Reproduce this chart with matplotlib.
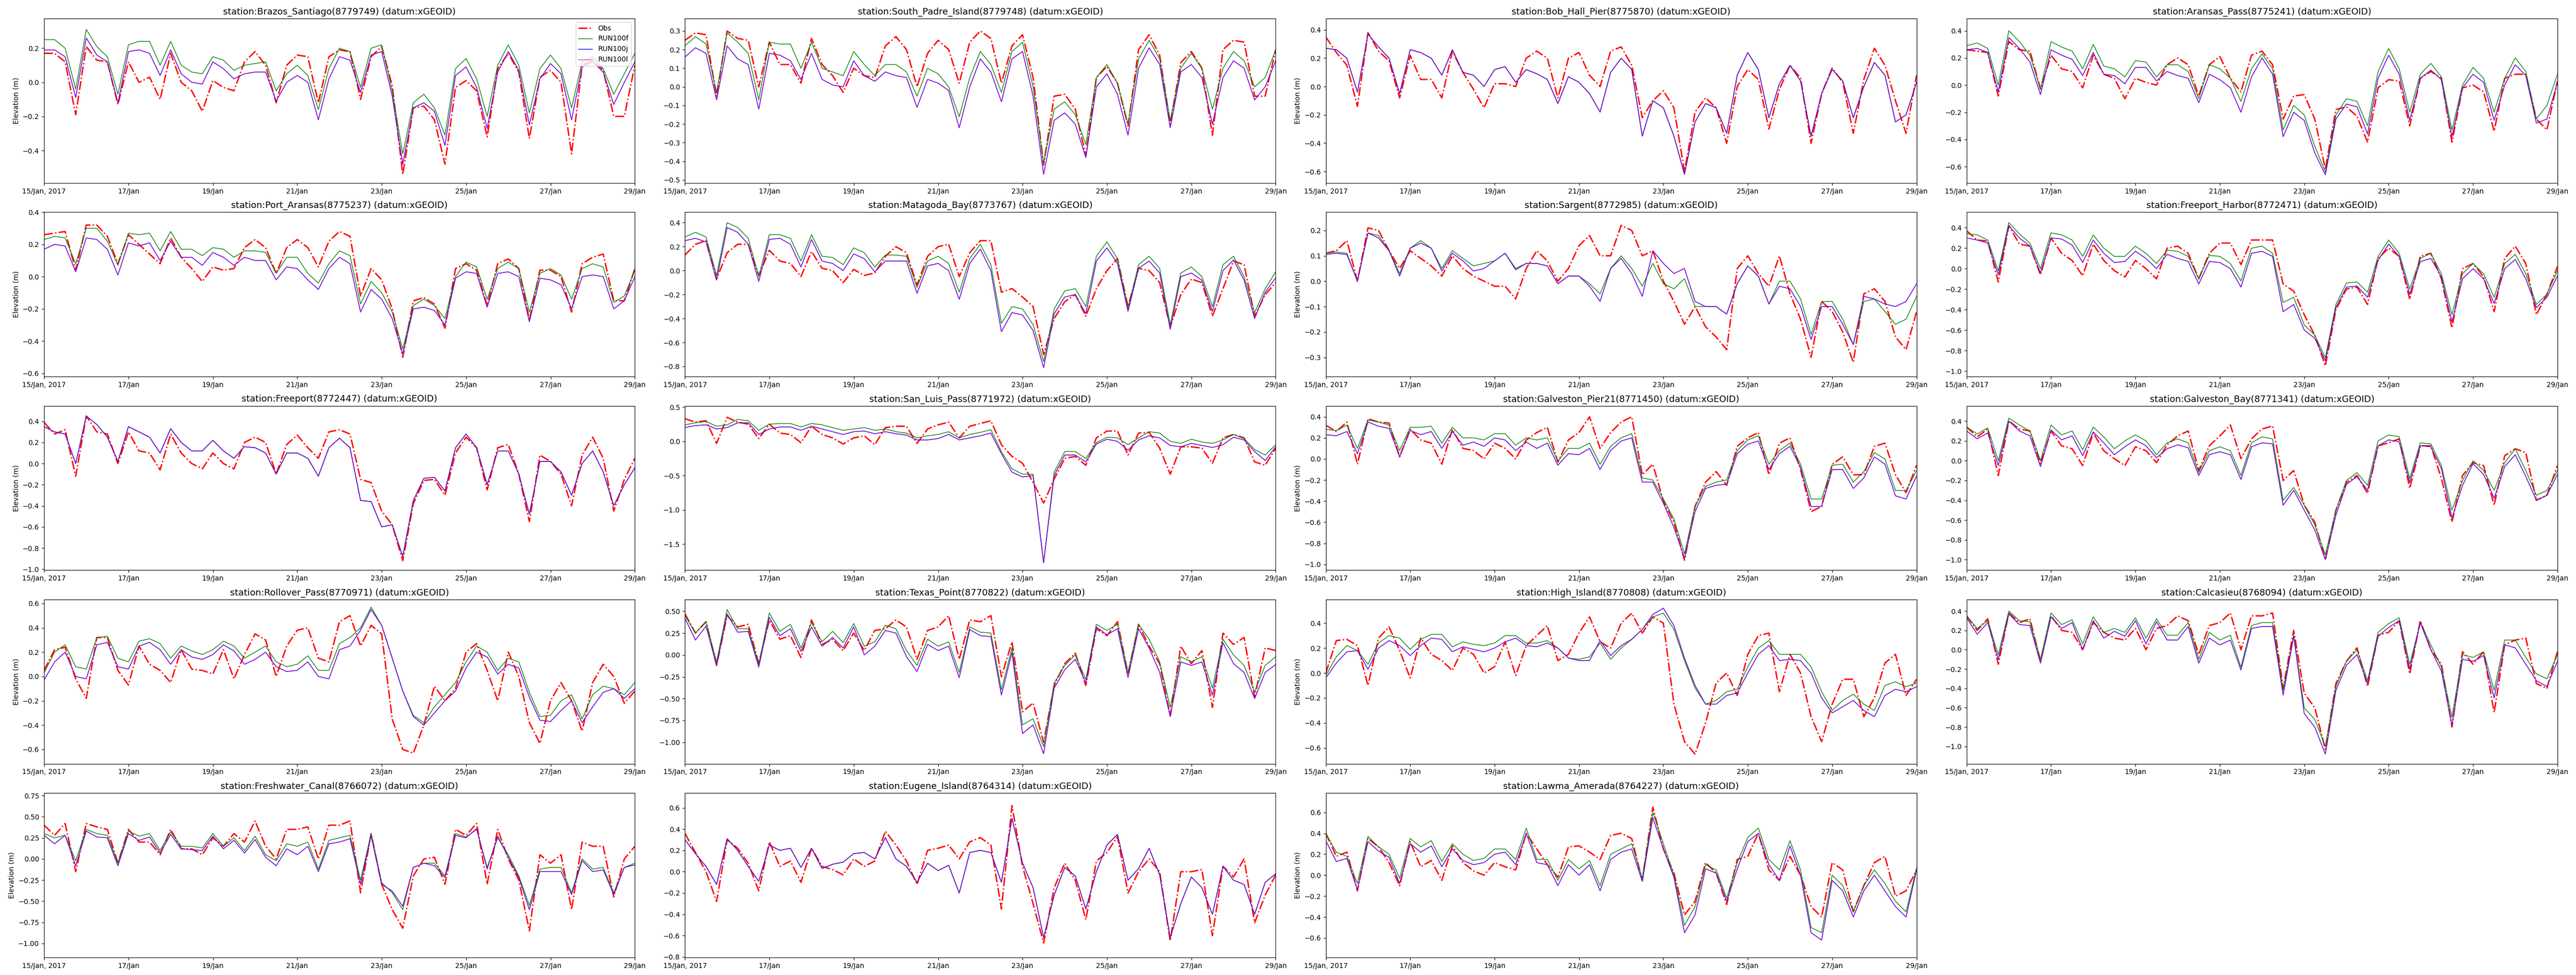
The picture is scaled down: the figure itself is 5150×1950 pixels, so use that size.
import numpy as np
import matplotlib
matplotlib.use("Agg")
import matplotlib.pyplot as plt

# ---------------- data (6-hourly readings, 15 Jan 00:00 .. 29 Jan 00:00) ----------------
times = np.arange(np.datetime64('2017-01-15T00:00'), np.datetime64('2017-01-29T06:00'),
                  np.timedelta64(6, 'h'))
tick_dates = np.arange(np.datetime64('2017-01-15T00:00'), np.datetime64('2017-01-30T00:00'),
                       np.timedelta64(2, 'D'))
tick_labels = ['15/Jan, 2017', '17/Jan', '19/Jan', '21/Jan', '23/Jan', '25/Jan', '27/Jan', '29/Jan']

station_names = ['Brazos_Santiago(8779749)', 'South_Padre_Island(8779748)', 'Bob_Hall_Pier(8775870)',
                 'Aransas_Pass(8775241)', 'Port_Aransas(8775237)', 'Matagoda_Bay(8773767)',
                 'Sargent(8772985)', 'Freeport_Harbor(8772471)', 'Freeport(8772447)',
                 'San_Luis_Pass(8771972)', 'Galveston_Pier21(8771450)', 'Galveston_Bay(8771341)',
                 'Rollover_Pass(8770971)', 'Texas_Point(8770822)', 'High_Island(8770808)',
                 'Calcasieu(8768094)', 'Freshwater_Canal(8766072)', 'Eugene_Island(8764314)',
                 'Lawma_Amerada(8764227)']
series_labels = ['Obs', 'RUN100f', 'RUN100j', 'RUN100l']

# 1 Brazos_Santiago
obs_brazos = [0.17,0.17,0.12,-0.19, 0.21,0.13,0.12,-0.13,
              0.12,0.00,0.03,-0.10, 0.17,0.00,-0.05,-0.17,
              0.01,-0.03,-0.05,0.12, 0.18,0.10,-0.12,0.10,
              0.16,0.15,-0.12,0.15, 0.19,0.18,-0.10,0.15,
              0.21,-0.02,-0.54,-0.15, -0.14,-0.22,-0.48,-0.03,
              0.01,-0.05,-0.32,0.08, 0.17,0.06,-0.33,0.03,
              0.07,0.00,-0.42,0.10, 0.13,0.07,-0.20,-0.20,
              0.10]
f_brazos = [0.25,0.25,0.20,-0.04, 0.31,0.21,0.15,-0.07,
            0.22,0.24,0.24,0.10, 0.24,0.10,0.06,0.05,
            0.15,0.13,0.07,0.10, 0.11,0.12,-0.05,0.05,
            0.10,0.04,-0.16,0.08, 0.20,0.18,-0.03,0.20,
            0.22,-0.05,-0.42,-0.12, -0.07,-0.15,-0.31,0.08,
            0.14,0.02,-0.20,0.10, 0.22,0.10,-0.18,0.08,
            0.16,0.08,-0.15,0.12, 0.15,0.08,-0.07,0.05,
            0.17]
l_brazos = [0.19,0.19,0.15,-0.09, 0.26,0.16,0.12,-0.12,
            0.18,0.19,0.17,0.04, 0.19,0.05,0.00,-0.01,
            0.12,0.08,0.02,0.05, 0.06,0.06,-0.11,0.00,
            0.04,0.00,-0.22,0.02, 0.15,0.13,-0.06,0.16,
            0.18,-0.08,-0.48,-0.15, -0.12,-0.17,-0.37,0.04,
            0.09,-0.03,-0.27,0.06, 0.18,0.07,-0.25,0.02,
            0.11,0.05,-0.22,0.09, 0.12,0.06,-0.13,0.00,
            0.12]

# 2 South_Padre_Island
obs_spi = [0.25,0.29,0.28,-0.05, 0.30,0.26,0.25,0.00,
           0.24,0.12,0.12,0.02, 0.26,0.12,0.06,-0.03,
           0.10,0.06,0.05,0.22, 0.27,0.20,0.00,0.18,
           0.25,0.20,0.02,0.24, 0.30,0.26,0.02,0.22,
           0.28,0.05,-0.42,-0.05, -0.04,-0.12,-0.37,0.05,
           0.11,0.02,-0.21,0.20, 0.28,0.17,-0.20,0.13,
           0.19,0.10,-0.26,0.20, 0.25,0.24,-0.05,-0.05,
           0.20]
f_spi = [0.22,0.27,0.23,-0.03, 0.29,0.24,0.18,-0.07,
         0.24,0.23,0.23,0.10, 0.24,0.10,0.08,0.06,
         0.19,0.12,0.06,0.12, 0.12,0.08,-0.05,0.10,
         0.07,0.00,-0.16,0.05, 0.19,0.12,-0.03,0.19,
         0.24,0.00,-0.41,-0.12, -0.08,-0.15,-0.31,0.05,
         0.12,0.02,-0.20,0.15, 0.25,0.15,-0.18,0.10,
         0.18,0.10,-0.12,0.10, 0.19,0.14,0.00,0.05,
         0.20]
l_spi = [0.16,0.21,0.18,-0.07, 0.22,0.15,0.12,-0.12,
         0.18,0.17,0.14,0.04, 0.18,0.04,0.01,0.00,
         0.14,0.06,0.03,0.08, 0.06,0.05,-0.11,0.04,
         0.02,-0.02,-0.22,0.00, 0.15,0.08,-0.08,0.15,
         0.19,-0.05,-0.47,-0.18, -0.14,-0.20,-0.38,0.00,
         0.07,-0.04,-0.26,0.10, 0.21,0.12,-0.22,0.08,
         0.12,0.05,-0.20,0.05, 0.14,0.10,-0.07,0.00,
         0.14]

# 3 Bob_Hall_Pier (all runs coincide)
obs_bob = [0.35,0.24,0.15,-0.14, 0.38,0.25,0.18,-0.08,
           0.22,0.05,0.05,-0.08, 0.25,0.10,-0.02,-0.15,
           0.02,0.02,0.00,0.20, 0.25,0.20,-0.08,0.20,
           0.24,0.08,0.00,0.25, 0.28,0.15,-0.22,-0.10,
           -0.03,-0.15,-0.60,-0.18, -0.08,-0.15,-0.40,0.00,
           0.12,0.05,-0.30,-0.02, 0.15,0.06,-0.40,-0.05,
           0.13,0.03,-0.33,0.05, 0.27,0.15,-0.10,-0.33,
           0.08]
l_bob = [0.27,0.26,0.20,-0.04, 0.37,0.28,0.20,-0.05,
         0.26,0.24,0.20,0.08, 0.26,0.10,0.08,0.00,
         0.12,0.14,0.03,0.12, 0.09,0.05,-0.12,0.07,
         0.03,-0.05,-0.18,0.10, 0.20,0.12,-0.35,-0.10,
         -0.15,-0.35,-0.62,-0.25, -0.12,-0.15,-0.33,0.08,
         0.24,0.12,-0.22,0.02, 0.15,0.04,-0.35,-0.05,
         0.12,0.04,-0.22,0.00, 0.17,0.08,-0.25,-0.20,
         0.03]

# 4 Aransas_Pass
obs_aransas = [0.26,0.25,0.24,-0.08, 0.32,0.26,0.25,-0.03,
               0.22,0.12,0.10,-0.02, 0.22,0.08,0.05,-0.10,
               0.05,0.02,0.00,0.15, 0.20,0.15,-0.08,0.15,
               0.21,0.05,-0.05,0.22, 0.25,0.15,-0.25,-0.08,
               -0.07,-0.25,-0.62,-0.18, -0.16,-0.23,-0.42,-0.02,
               0.04,0.03,-0.30,0.05, 0.10,0.05,-0.42,-0.02,
               0.00,-0.05,-0.34,0.05, 0.08,0.08,-0.25,-0.33,
               0.03]
f_aransas = [0.29,0.31,0.27,0.00, 0.40,0.32,0.22,-0.03,
             0.32,0.28,0.25,0.12, 0.30,0.14,0.12,0.06,
             0.18,0.17,0.06,0.15, 0.15,0.10,-0.10,0.15,
             0.12,0.05,-0.12,0.12, 0.23,0.12,-0.33,-0.15,
             -0.22,-0.45,-0.64,-0.22, -0.10,-0.12,-0.30,0.10,
             0.27,0.12,-0.20,0.08, 0.16,0.06,-0.33,0.00,
             0.13,0.05,-0.20,0.05, 0.20,0.10,-0.25,-0.15,
             0.08]
l_aransas = [0.26,0.27,0.24,-0.05, 0.35,0.27,0.17,-0.07,
             0.26,0.22,0.19,0.07, 0.24,0.08,0.07,0.01,
             0.13,0.13,0.03,0.10, 0.07,0.05,-0.13,0.08,
             0.04,-0.02,-0.20,0.06, 0.20,0.08,-0.38,-0.20,
             -0.26,-0.50,-0.66,-0.25, -0.14,-0.16,-0.36,0.05,
             0.22,0.08,-0.26,0.05, 0.11,0.04,-0.38,-0.02,
             0.08,0.02,-0.26,0.00, 0.15,0.07,-0.28,-0.25,
             0.02]

# 5 Port_Aransas
obs_port = [0.26,0.27,0.28,0.04, 0.32,0.32,0.25,0.08,
            0.26,0.20,0.14,0.08, 0.24,0.12,0.05,-0.03,
            0.06,0.04,0.05,0.18, 0.23,0.18,0.02,0.18,
            0.23,0.18,0.06,0.22, 0.28,0.25,-0.12,0.05,
            -0.02,-0.20,-0.50,-0.15, -0.13,-0.17,-0.32,0.05,
            0.08,0.04,-0.18,0.08, 0.11,0.05,-0.27,0.04,
            0.04,0.00,-0.22,0.08, 0.12,0.14,-0.15,-0.15,
            0.05]
f_port = [0.23,0.25,0.24,0.08, 0.30,0.30,0.22,0.07,
          0.27,0.26,0.27,0.16, 0.28,0.17,0.17,0.13,
          0.18,0.17,0.12,0.16, 0.16,0.15,0.02,0.12,
          0.12,0.02,-0.04,0.08, 0.16,0.13,-0.17,-0.03,
          -0.10,-0.22,-0.45,-0.18, -0.14,-0.18,-0.26,0.00,
          0.09,0.06,-0.14,0.05, 0.09,0.05,-0.22,0.02,
          0.05,0.01,-0.14,0.05, 0.08,0.06,-0.16,-0.12,
          0.04]
l_port = [0.17,0.20,0.19,0.03, 0.24,0.23,0.17,0.01,
          0.21,0.19,0.21,0.10, 0.22,0.12,0.12,0.07,
          0.15,0.12,0.07,0.12, 0.10,0.10,-0.02,0.06,
          0.05,-0.02,-0.08,0.05, 0.12,0.08,-0.22,-0.08,
          -0.14,-0.26,-0.48,-0.20, -0.19,-0.21,-0.30,-0.01,
          0.03,0.02,-0.19,0.02, 0.03,0.00,-0.28,-0.01,
          -0.02,-0.05,-0.20,0.00, 0.01,0.00,-0.20,-0.15,
          0.00]

# 6 Matagoda_Bay
obs_mata = [0.13,0.22,0.25,-0.07, 0.15,0.22,0.22,-0.04,
            0.17,0.08,0.06,-0.05, 0.16,0.02,0.00,-0.10,
            0.01,-0.04,-0.02,0.12, 0.20,0.15,-0.12,0.12,
            0.20,0.22,-0.05,0.15, 0.25,0.25,-0.18,-0.15,
            -0.22,-0.30,-0.70,-0.40, -0.26,-0.20,-0.38,-0.15,
            0.00,0.10,-0.30,0.02, 0.00,-0.10,-0.47,-0.20,
            -0.07,-0.10,-0.38,-0.15, 0.08,0.05,-0.38,-0.20,
            -0.10]
f_mata = [0.28,0.32,0.28,-0.04, 0.40,0.36,0.27,-0.05,
          0.30,0.30,0.27,0.08, 0.30,0.12,0.11,0.05,
          0.19,0.15,0.03,0.13, 0.13,0.12,-0.14,0.08,
          0.12,0.06,-0.18,0.10, 0.22,0.05,-0.44,-0.30,
          -0.32,-0.45,-0.76,-0.32, -0.17,-0.15,-0.30,0.12,
          0.24,0.10,-0.32,0.05, 0.12,0.02,-0.45,-0.02,
          0.03,-0.05,-0.30,0.05, 0.12,-0.05,-0.35,-0.15,
          -0.01]
l_mata = [0.25,0.27,0.24,-0.08, 0.36,0.32,0.22,-0.09,
          0.26,0.27,0.22,0.03, 0.26,0.08,0.06,0.00,
          0.14,0.10,-0.01,0.08, 0.08,0.08,-0.19,0.04,
          0.06,0.00,-0.24,0.06, 0.18,0.00,-0.51,-0.35,
          -0.37,-0.50,-0.81,-0.36, -0.22,-0.20,-0.36,0.08,
          0.19,0.06,-0.34,0.02, 0.08,-0.02,-0.49,-0.05,
          -0.02,-0.08,-0.34,0.00, 0.09,-0.08,-0.40,-0.18,
          -0.06]

# 7 Sargent
obs_sarg = [0.11,0.12,0.16,0.00, 0.21,0.20,0.12,0.05,
            0.12,0.09,0.06,0.02, 0.10,0.05,0.02,0.00,
            -0.02,-0.02,-0.07,0.05, 0.12,0.08,0.00,0.05,
            0.14,0.18,0.10,0.10, 0.22,0.20,0.10,0.12,
            0.00,-0.08,-0.17,-0.10, -0.18,-0.22,-0.27,0.05,
            0.10,0.03,-0.02,0.10, -0.05,-0.15,-0.30,-0.08,
            -0.12,-0.20,-0.32,-0.05, -0.03,-0.08,-0.22,-0.27,
            -0.12]
f_sarg = [0.11,0.115,0.11,0.00, 0.19,0.18,0.12,0.03,
          0.13,0.16,0.13,0.05, 0.12,0.09,0.06,0.07,
          0.08,0.11,0.05,0.07, 0.07,0.06,-0.01,0.02,
          0.02,-0.01,-0.05,0.05, 0.10,0.05,-0.02,0.07,
          -0.01,-0.03,0.01,-0.10, -0.10,-0.10,-0.13,-0.01,
          0.06,0.02,-0.09,0.00, 0.00,-0.07,-0.21,-0.08,
          -0.08,-0.15,-0.25,-0.08, -0.07,-0.12,-0.17,-0.15,
          -0.06]
l_sarg = [0.105,0.11,0.105,0.00, 0.19,0.17,0.12,0.02,
          0.13,0.15,0.13,0.04, 0.11,0.08,0.04,0.05,
          0.08,0.11,0.045,0.07, 0.07,0.06,-0.01,0.02,
          0.02,-0.02,-0.08,0.05, 0.09,0.03,-0.06,0.12,
          0.07,0.03,0.05,-0.08, -0.10,-0.10,-0.13,-0.01,
          0.06,0.02,-0.09,-0.02, -0.03,-0.10,-0.23,-0.10,
          -0.10,-0.17,-0.25,-0.06, -0.07,-0.09,-0.10,-0.08,
          -0.01]

# 8 Freeport_Harbor
obs_fh = [0.37,0.28,0.27,-0.13, 0.42,0.24,0.22,-0.06,
          0.30,0.15,0.08,-0.07, 0.24,0.08,-0.02,-0.08,
          0.08,0.00,-0.10,0.20, 0.22,0.15,-0.10,0.15,
          0.25,0.25,0.04,0.28, 0.28,0.28,-0.15,-0.22,
          -0.45,-0.65,-0.95,-0.40, -0.20,-0.18,-0.35,0.10,
          0.20,0.12,-0.30,0.12, 0.15,-0.10,-0.58,0.00,
          0.05,-0.08,-0.42,0.10, 0.22,0.05,-0.45,-0.25,
          0.02]
f_fh = [0.34,0.33,0.28,-0.02, 0.45,0.34,0.25,0.00,
        0.35,0.33,0.28,0.12, 0.33,0.20,0.12,0.12,
        0.22,0.15,0.05,0.18, 0.17,0.12,-0.10,0.13,
        0.12,0.05,-0.12,0.20, 0.22,0.15,-0.33,-0.28,
        -0.55,-0.65,-0.87,-0.35, -0.14,-0.13,-0.23,0.12,
        0.28,0.15,-0.20,0.10, 0.15,-0.05,-0.45,-0.05,
        0.05,-0.05,-0.28,0.05, 0.14,-0.05,-0.35,-0.25,
        -0.02]
l_fh = [0.30,0.28,0.25,-0.06, 0.42,0.30,0.22,-0.04,
        0.30,0.29,0.23,0.06, 0.28,0.15,0.06,0.07,
        0.17,0.10,0.00,0.14, 0.10,0.07,-0.15,0.07,
        0.06,0.00,-0.18,0.15, 0.17,0.12,-0.42,-0.35,
        -0.60,-0.68,-0.90,-0.38, -0.18,-0.17,-0.28,0.08,
        0.24,0.12,-0.25,0.07, 0.10,-0.08,-0.52,-0.10,
        0.00,-0.10,-0.34,0.00, 0.09,-0.10,-0.38,-0.28,
        -0.07]

# 9 Freeport (all runs coincide)
obs_fp = [0.39,0.28,0.32,-0.12, 0.45,0.30,0.28,0.00,
          0.30,0.12,0.10,-0.06, 0.28,0.10,0.00,-0.05,
          0.10,0.00,-0.05,0.20, 0.25,0.20,-0.10,0.18,
          0.27,0.15,0.05,0.30, 0.32,0.28,-0.15,-0.18,
          -0.45,-0.58,-0.92,-0.38, -0.16,-0.15,-0.30,0.10,
          0.25,0.15,-0.25,0.15, 0.18,-0.10,-0.55,0.08,
          0.02,-0.10,-0.40,0.08, 0.25,0.05,-0.45,-0.15,
          0.05]
l_fp = [0.35,0.30,0.28,0.00, 0.45,0.37,0.25,0.02,
        0.35,0.30,0.25,0.10, 0.33,0.20,0.12,0.12,
        0.22,0.12,0.05,0.16, 0.15,0.10,-0.10,0.10,
        0.10,0.05,-0.12,0.15, 0.24,0.15,-0.35,-0.36,
        -0.60,-0.58,-0.88,-0.35, -0.14,-0.13,-0.26,0.15,
        0.28,0.15,-0.20,0.12, 0.12,-0.10,-0.48,0.02,
        0.02,-0.08,-0.30,0.00, 0.12,-0.08,-0.40,-0.20,
        -0.04]

# 10 San_Luis_Pass
obs_slp = [0.33,0.28,0.30,-0.03, 0.35,0.28,0.25,0.04,
           0.25,0.12,0.10,-0.02, 0.22,0.10,0.05,-0.04,
           0.05,0.08,-0.05,0.20, 0.22,0.22,-0.03,0.18,
           0.24,0.28,0.05,0.22, 0.26,0.30,-0.05,-0.22,
           -0.32,-0.60,-0.90,-0.55, -0.25,-0.22,-0.35,0.05,
           0.15,0.15,-0.20,0.12, 0.13,-0.10,-0.48,-0.08,
           -0.08,-0.10,-0.32,0.05, 0.10,0.05,-0.30,-0.35,
           -0.10]
f_slp = [0.24,0.27,0.29,0.22, 0.24,0.32,0.30,0.16,
         0.25,0.26,0.26,0.21, 0.26,0.24,0.20,0.16,
         0.18,0.20,0.16,0.18, 0.14,0.12,0.05,0.08,
         0.10,0.14,0.05,0.10, 0.13,0.17,-0.15,-0.40,
         -0.48,-0.48,-1.77,-0.45, -0.15,-0.15,-0.25,-0.02,
         0.06,0.05,-0.05,0.05, 0.14,0.12,0.00,-0.03,
         0.03,-0.01,-0.03,0.02, 0.10,0.04,-0.12,-0.20,
         -0.05]
l_slp = [0.20,0.23,0.24,0.18, 0.20,0.27,0.27,0.10,
         0.18,0.21,0.21,0.16, 0.22,0.18,0.14,0.10,
         0.14,0.15,0.11,0.14, 0.11,0.09,0.02,0.02,
         0.04,0.10,0.02,0.05, 0.08,0.12,-0.18,-0.45,
         -0.52,-0.50,-1.77,-0.50, -0.20,-0.20,-0.30,-0.04,
         0.03,0.00,-0.13,0.02, 0.08,0.05,-0.06,-0.08,
         -0.03,-0.06,-0.09,-0.05, 0.06,0.02,-0.15,-0.28,
         -0.08]

# 11 Galveston_Pier21
obs_gp = [0.32,0.26,0.35,-0.05, 0.38,0.35,0.34,0.02,
          0.28,0.18,0.15,-0.05, 0.28,0.10,0.08,0.00,
          0.15,0.10,0.00,0.18, 0.25,0.30,-0.03,0.18,
          0.25,0.40,0.10,0.25, 0.35,0.40,-0.15,-0.05,
          -0.40,-0.60,-0.96,-0.45, -0.22,-0.12,-0.25,0.12,
          0.20,0.25,-0.15,0.15, 0.20,-0.10,-0.50,-0.45,
          -0.05,0.02,-0.15,-0.15, 0.12,0.15,-0.15,-0.32,
          -0.06]
f_gp = [0.28,0.27,0.32,0.10, 0.37,0.35,0.32,0.08,
        0.30,0.30,0.31,0.15, 0.30,0.20,0.20,0.18,
        0.24,0.24,0.13,0.20, 0.18,0.20,-0.02,0.10,
        0.10,0.15,-0.05,0.12, 0.20,0.24,-0.18,-0.20,
        -0.38,-0.57,-0.90,-0.45, -0.26,-0.22,-0.20,0.08,
        0.18,0.22,-0.05,0.08, 0.15,-0.05,-0.38,-0.38,
        -0.06,-0.05,-0.22,-0.12, 0.06,0.00,-0.30,-0.30,
        -0.11]
l_gp = [0.23,0.22,0.26,0.05, 0.35,0.31,0.29,0.02,
        0.27,0.23,0.26,0.10, 0.26,0.13,0.16,0.12,
        0.20,0.18,0.08,0.16, 0.10,0.15,-0.06,0.05,
        0.04,0.10,-0.10,0.08, 0.17,0.20,-0.22,-0.22,
        -0.42,-0.65,-0.94,-0.50, -0.28,-0.25,-0.24,0.05,
        0.14,0.17,-0.10,0.05, 0.12,-0.08,-0.45,-0.45,
        -0.10,-0.10,-0.28,-0.18, 0.02,-0.05,-0.35,-0.38,
        -0.16]

# 12 Galveston_Bay
obs_gb = [0.34,0.24,0.32,-0.15, 0.40,0.32,0.30,-0.03,
          0.30,0.15,0.12,-0.05, 0.28,0.10,0.02,-0.05,
          0.14,0.10,-0.02,0.16, 0.25,0.30,-0.10,0.15,
          0.25,0.36,0.02,0.22, 0.32,0.35,-0.20,-0.10,
          -0.45,-0.62,-1.00,-0.50, -0.22,-0.15,-0.33,0.15,
          0.18,0.22,-0.28,0.15, 0.15,-0.18,-0.62,-0.15,
          -0.02,-0.05,-0.45,0.05, 0.12,0.08,-0.40,-0.35,
          -0.05]
f_gb = [0.34,0.27,0.33,0.00, 0.43,0.36,0.30,0.00,
        0.36,0.26,0.30,0.11, 0.34,0.24,0.12,0.20,
        0.26,0.20,0.06,0.18, 0.22,0.18,-0.12,0.10,
        0.14,0.10,-0.15,0.18, 0.24,0.22,-0.40,-0.27,
        -0.45,-0.65,-0.95,-0.50, -0.20,-0.12,-0.25,0.20,
        0.26,0.24,-0.18,0.18, 0.17,-0.05,-0.50,-0.20,
        0.00,-0.10,-0.30,-0.02, 0.12,-0.10,-0.35,-0.30,
        -0.10]
l_gb = [0.30,0.22,0.28,-0.05, 0.40,0.30,0.25,-0.06,
        0.31,0.21,0.25,0.05, 0.29,0.18,0.06,0.14,
        0.21,0.15,0.03,0.12, 0.16,0.13,-0.15,0.06,
        0.09,0.06,-0.19,0.14, 0.18,0.17,-0.45,-0.30,
        -0.50,-0.70,-1.00,-0.55, -0.24,-0.16,-0.30,0.15,
        0.21,0.19,-0.22,0.15, 0.14,-0.08,-0.58,-0.25,
        -0.03,-0.14,-0.38,-0.06, 0.06,-0.16,-0.40,-0.35,
        -0.14]

# 13 Rollover_Pass
obs_roll = [0.05,0.22,0.24,-0.02, -0.18,0.32,0.32,0.05,
            -0.07,0.25,0.10,0.05, -0.05,0.22,0.06,0.05,
            0.02,0.22,-0.02,0.18, 0.35,0.30,0.00,0.25,
            0.38,0.40,0.15,0.12, 0.45,0.50,0.25,0.42,
            0.35,-0.35,-0.60,-0.63, -0.40,-0.08,-0.20,-0.10,
            0.20,0.27,0.05,-0.20, 0.20,0.00,-0.38,-0.55,
            -0.20,-0.05,-0.20,-0.45, -0.05,0.10,0.00,-0.22,
            -0.12]
f_roll = [0.03,0.20,0.26,0.08, 0.06,0.32,0.33,0.15,
          0.12,0.29,0.31,0.27, 0.15,0.25,0.21,0.18,
          0.22,0.29,0.25,0.15, 0.20,0.25,0.12,0.08,
          0.10,0.17,0.05,0.05, 0.27,0.32,0.40,0.57,
          0.42,0.15,-0.12,-0.32, -0.38,-0.25,-0.15,-0.05,
          0.12,0.25,0.20,0.05, 0.15,0.12,-0.13,-0.33,
          -0.32,-0.20,-0.15,-0.35, -0.15,-0.08,-0.10,-0.15,
          -0.05]
l_roll = [-0.03,0.12,0.20,0.00, -0.02,0.26,0.28,0.08,
          0.06,0.25,0.28,0.22, 0.10,0.22,0.16,0.14,
          0.18,0.26,0.21,0.10, 0.14,0.20,0.08,0.04,
          0.05,0.12,0.00,-0.02, 0.22,0.25,0.38,0.55,
          0.42,0.15,-0.12,-0.33, -0.40,-0.30,-0.20,-0.12,
          0.07,0.20,0.16,0.02, 0.10,0.07,-0.17,-0.36,
          -0.37,-0.28,-0.20,-0.38, -0.25,-0.13,-0.10,-0.18,
          -0.10]

# 14 Texas_Point
obs_tp = [0.47,0.25,0.38,-0.12, 0.45,0.32,0.35,-0.10,
          0.40,0.18,0.22,-0.03, 0.40,0.12,0.18,0.05,
          0.25,0.05,0.28,0.30, 0.40,0.32,-0.05,0.28,
          0.32,0.45,-0.05,0.40, 0.38,0.45,-0.25,0.15,
          -0.65,-0.55,-1.00,-0.35, -0.10,0.02,-0.35,0.30,
          0.22,0.38,-0.22,0.35, 0.10,-0.10,-0.70,0.10,
          -0.10,0.05,-0.60,0.25, 0.12,0.20,-0.48,0.08,
          0.05]
f_tp = [0.45,0.25,0.38,-0.08, 0.52,0.30,0.30,-0.11,
        0.48,0.27,0.35,0.08, 0.37,0.15,0.27,0.14,
        0.36,0.10,0.15,0.34, 0.30,0.05,-0.12,0.18,
        0.10,0.15,-0.20,0.32, 0.26,0.25,-0.40,0.08,
        -0.80,-0.73,-1.05,-0.32, -0.12,0.00,-0.28,0.35,
        0.28,0.35,-0.20,0.35, 0.18,-0.08,-0.60,-0.02,
        -0.08,-0.02,-0.38,0.18, 0.00,-0.12,-0.42,-0.12,
        -0.02]
l_tp = [0.42,0.17,0.33,-0.12, 0.47,0.26,0.27,-0.14,
        0.43,0.22,0.30,0.04, 0.32,0.10,0.20,0.08,
        0.32,0.00,0.10,0.28, 0.25,-0.02,-0.19,0.12,
        0.05,0.10,-0.26,0.29, 0.22,0.21,-0.46,0.03,
        -0.90,-0.80,-1.13,-0.38, -0.17,-0.05,-0.32,0.32,
        0.23,0.30,-0.26,0.30, 0.08,-0.20,-0.70,-0.08,
        -0.12,-0.08,-0.46,0.14, -0.10,-0.20,-0.50,-0.20,
        -0.11]

# 15 High_Island
obs_hi = [0.00,0.26,0.27,0.22, -0.10,0.28,0.37,0.18,
          -0.04,0.28,0.15,0.10, 0.02,0.20,0.15,0.00,
          0.05,0.25,-0.02,0.22, 0.30,0.38,0.10,0.15,
          0.32,0.45,0.25,0.20, 0.40,0.48,0.32,0.45,
          0.40,-0.25,-0.55,-0.65, -0.40,-0.08,0.00,-0.18,
          0.15,0.30,0.32,-0.15, 0.15,0.00,-0.35,-0.55,
          -0.25,-0.05,-0.05,-0.35, -0.20,0.08,0.15,-0.18,
          -0.05]
f_hi = [-0.02,0.13,0.22,0.18, 0.07,0.24,0.30,0.28,
        0.19,0.27,0.31,0.31, 0.21,0.25,0.23,0.22,
        0.24,0.30,0.30,0.24, 0.24,0.26,0.20,0.12,
        0.11,0.13,0.24,0.11, 0.20,0.27,0.35,0.45,
        0.48,0.35,0.10,-0.12, -0.25,-0.22,-0.15,-0.13,
        0.05,0.20,0.26,0.15, 0.15,0.15,0.05,-0.15,
        -0.30,-0.22,-0.17,-0.25, -0.30,-0.10,-0.07,-0.11,
        -0.08]
l_hi = [-0.04,0.08,0.17,0.18, 0.03,0.20,0.26,0.22,
        0.14,0.22,0.28,0.27, 0.17,0.21,0.19,0.17,
        0.20,0.25,0.28,0.22, 0.21,0.24,0.20,0.12,
        0.10,0.10,0.26,0.14, 0.22,0.27,0.35,0.47,
        0.52,0.38,0.12,-0.10, -0.25,-0.25,-0.18,-0.16,
        0.00,0.15,0.22,0.10, 0.11,0.10,0.00,-0.20,
        -0.32,-0.27,-0.22,-0.30, -0.35,-0.18,-0.13,-0.15,
        -0.11]

# 16 Calcasieu
obs_calc = [0.35,0.20,0.32,-0.15, 0.38,0.28,0.32,-0.12,
            0.35,0.20,0.18,0.00, 0.28,0.18,0.12,0.10,
            0.22,0.00,0.22,0.25, 0.35,0.30,-0.05,0.25,
            0.28,0.38,0.00,0.35, 0.35,0.38,-0.40,0.20,
            -0.45,-0.60,-1.03,-0.35, -0.12,0.02,-0.38,0.15,
            0.18,0.30,-0.25,0.30, 0.00,-0.15,-0.80,-0.02,
            -0.15,-0.02,-0.65,0.05, 0.10,0.12,-0.35,-0.40,
            -0.02]
f_calc = [0.35,0.22,0.30,-0.05, 0.40,0.30,0.29,-0.10,
          0.38,0.26,0.31,0.06, 0.34,0.18,0.22,0.18,
          0.33,0.12,0.32,0.15, 0.15,0.28,-0.10,0.18,
          0.10,0.15,-0.18,0.25, 0.28,0.28,-0.42,0.15,
          -0.60,-0.72,-1.00,-0.38, -0.12,0.00,-0.32,0.18,
          0.27,0.33,-0.15,0.28, 0.05,-0.18,-0.70,-0.05,
          -0.08,-0.02,-0.42,0.10, 0.10,-0.08,-0.25,-0.30,
          -0.05]
l_calc = [0.33,0.16,0.28,-0.10, 0.37,0.26,0.25,-0.14,
          0.34,0.22,0.28,0.00, 0.30,0.12,0.19,0.14,
          0.30,0.06,0.29,0.10, 0.10,0.24,-0.14,0.12,
          0.05,0.10,-0.21,0.22, 0.24,0.24,-0.47,0.14,
          -0.66,-0.80,-1.08,-0.42, -0.16,-0.05,-0.35,0.14,
          0.23,0.30,-0.20,0.28, 0.00,-0.22,-0.78,-0.10,
          -0.12,-0.06,-0.50,0.05, 0.02,-0.15,-0.32,-0.38,
          -0.12]

# 17 Freshwater_Canal
obs_fw = [0.40,0.28,0.42,-0.15, 0.42,0.38,0.35,-0.05,
          0.35,0.20,0.20,0.05, 0.35,0.12,0.12,0.05,
          0.25,0.15,0.30,0.20, 0.45,0.15,0.00,0.35,
          0.35,0.38,0.00,0.40, 0.40,0.45,-0.40,0.30,
          -0.30,-0.60,-0.82,-0.20, 0.00,0.02,-0.30,0.35,
          0.28,0.42,-0.30,0.35, 0.00,-0.25,-0.85,0.05,
          -0.05,0.05,-0.60,0.20, 0.15,0.15,-0.45,0.00,
          0.15]
f_fw = [0.30,0.25,0.28,-0.02, 0.35,0.30,0.28,-0.05,
        0.33,0.27,0.30,0.10, 0.32,0.15,0.15,0.13,
        0.30,0.15,0.25,0.10, 0.27,0.05,-0.02,0.18,
        0.15,0.20,-0.12,0.22, 0.25,0.28,-0.25,0.30,
        -0.28,-0.40,-0.60,-0.10, -0.05,-0.05,-0.20,0.30,
        0.26,0.35,-0.10,0.25, 0.05,-0.20,-0.55,-0.12,
        -0.10,-0.10,-0.40,0.00, -0.12,-0.10,-0.40,-0.10,
        -0.05]
l_fw = [0.28,0.18,0.28,-0.08, 0.33,0.26,0.25,-0.08,
        0.30,0.22,0.26,0.07, 0.29,0.12,0.11,0.10,
        0.27,0.12,0.22,0.07, 0.23,0.02,-0.08,0.12,
        0.05,0.15,-0.15,0.18, 0.20,0.24,-0.30,0.28,
        -0.30,-0.38,-0.56,-0.10, -0.05,-0.08,-0.22,0.28,
        0.25,0.36,-0.12,0.27, 0.02,-0.22,-0.60,-0.15,
        -0.15,-0.15,-0.42,-0.02, -0.15,-0.13,-0.42,-0.10,
        -0.07]

# 18 Eugene_Island (all runs coincide)
obs_eu = [0.36,0.18,0.00,-0.28, 0.30,0.22,0.08,-0.18,
          0.28,0.05,0.10,-0.10, 0.22,0.05,0.02,-0.03,
          0.12,0.05,0.10,0.38, 0.25,0.10,-0.12,0.20,
          0.22,0.25,0.12,0.28, 0.32,0.25,-0.35,0.62,
          0.05,-0.30,-0.67,-0.15, 0.08,-0.08,-0.45,0.10,
          0.18,0.33,-0.20,0.00, 0.12,0.00,-0.65,0.00,
          0.00,0.02,-0.60,0.05, -0.05,0.12,-0.48,-0.22,
          -0.03]
l_eu = [0.30,0.17,0.05,-0.12, 0.31,0.20,0.05,-0.09,
        0.25,0.20,0.22,0.04, 0.22,0.03,0.07,0.09,
        0.17,0.18,0.12,0.32, 0.12,0.05,-0.10,0.08,
        0.01,0.06,-0.20,0.18, 0.20,0.18,-0.10,0.50,
        0.08,-0.15,-0.62,-0.22, 0.04,-0.04,-0.35,0.00,
        0.25,0.35,-0.08,0.03, 0.22,-0.03,-0.62,-0.30,
        -0.05,-0.15,-0.40,0.05, -0.08,-0.12,-0.40,-0.10,
        -0.02]

# 19 Lawma_Amerada
obs_la = [0.40,0.18,0.22,-0.15, 0.35,0.27,0.12,-0.10,
          0.32,0.08,0.14,-0.05, 0.28,0.12,0.04,0.00,
          0.12,0.08,0.05,0.40, 0.25,0.10,-0.02,0.27,
          0.28,0.22,0.15,0.38, 0.40,0.35,-0.05,0.65,
          0.25,0.02,-0.38,-0.25, 0.12,0.02,-0.28,0.15,
          0.18,0.40,0.05,-0.05, 0.18,0.00,-0.30,-0.40,
          0.12,0.05,-0.35,-0.10, 0.12,0.18,-0.20,-0.15,
          0.05]
f_la = [0.40,0.22,0.18,-0.08, 0.37,0.27,0.20,-0.03,
        0.35,0.27,0.33,0.13, 0.30,0.20,0.14,0.16,
        0.25,0.25,0.15,0.45, 0.15,0.15,-0.05,0.15,
        0.06,0.14,-0.10,0.20, 0.25,0.30,-0.03,0.60,
        0.30,0.00,-0.48,-0.30, 0.10,0.05,-0.22,0.12,
        0.36,0.45,0.15,0.05, 0.33,0.05,-0.50,-0.55,
        0.00,-0.10,-0.35,-0.10, 0.05,-0.08,-0.25,-0.35,
        0.07]
l_la = [0.33,0.13,0.16,-0.14, 0.32,0.23,0.17,-0.08,
        0.30,0.22,0.28,0.08, 0.25,0.14,0.10,0.12,
        0.20,0.22,0.10,0.40, 0.12,0.10,-0.10,0.10,
        0.00,0.10,-0.15,0.15, 0.22,0.25,-0.06,0.55,
        0.25,-0.02,-0.55,-0.38, 0.06,0.02,-0.25,0.06,
        0.32,0.40,0.10,-0.05, 0.28,0.00,-0.55,-0.62,
        -0.05,-0.15,-0.40,-0.15, 0.00,-0.15,-0.30,-0.40,
        0.05]

obs_series = [obs_brazos, obs_spi, obs_bob, obs_aransas, obs_port, obs_mata, obs_sarg,
              obs_fh, obs_fp, obs_slp, obs_gp, obs_gb, obs_roll, obs_tp, obs_hi,
              obs_calc, obs_fw, obs_eu, obs_la]
run100f_series = [f_brazos, f_spi, l_bob, f_aransas, f_port, f_mata, f_sarg,
                  f_fh, l_fp, f_slp, f_gp, f_gb, f_roll, f_tp, f_hi,
                  f_calc, f_fw, l_eu, f_la]
# RUN100j lies under RUN100l everywhere in the picture
run100j_series = [l_brazos, l_spi, l_bob, l_aransas, l_port, l_mata, l_sarg,
                  l_fh, l_fp, l_slp, l_gp, l_gb, l_roll, l_tp, l_hi,
                  l_calc, l_fw, l_eu, l_la]
run100l_series = [l_brazos, l_spi, l_bob, l_aransas, l_port, l_mata, l_sarg,
                  l_fh, l_fp, l_slp, l_gp, l_gb, l_roll, l_tp, l_hi,
                  l_calc, l_fw, l_eu, l_la]

# ---------------- styling / layout ----------------
y_limits = [(-0.59, 0.374), (-0.516, 0.367), (-0.68, 0.48), (-0.72, 0.49),
            (-0.62, 0.40), (-0.884, 0.488), (-0.376, 0.272), (-1.054, 0.552),
            (-1.01, 0.547), (-1.88, 0.518), (-1.055, 0.504), (-1.106, 0.554),
            (-0.718, 0.633), (-1.246, 0.635), (-0.728, 0.59), (-1.18, 0.52),
            (-1.166, 0.78), (-0.805, 0.738), (-0.786, 0.784)]

fig, axes = plt.subplots(5, 4, figsize=(51.5, 19.5), dpi=100)
fig.subplots_adjust(left=0.0171, right=0.9928, top=0.981, bottom=0.018,
                    wspace=0.0847, hspace=0.178)

for i, ax in enumerate(axes.flat):
    if i >= len(station_names):
        ax.axis('off')
        continue
    ax.plot(times, obs_series[i], color='red', linestyle='-.', linewidth=2, label=series_labels[0])
    ax.plot(times, run100f_series[i], color='green', linewidth=1.0, label=series_labels[1])
    ax.plot(times, run100j_series[i], color='blue', linewidth=1.0, label=series_labels[2])
    ax.plot(times, run100l_series[i], color='m', alpha=0.7, linewidth=1.0, label=series_labels[3])
    ax.set_title('station:' + station_names[i] + ' (datum:xGEOID)', fontsize=13)
    ax.set_xlim(times[0], times[-1])
    ax.set_xticks(tick_dates)
    ax.set_xticklabels(tick_labels)
    ax.set_ylim(*y_limits[i])
    if i % 2 == 0:
        ax.set_ylabel('Elevation (m)')
    if i == 0:
        ax.legend(loc='upper right')

fig.savefig('out.png', dpi=100)
